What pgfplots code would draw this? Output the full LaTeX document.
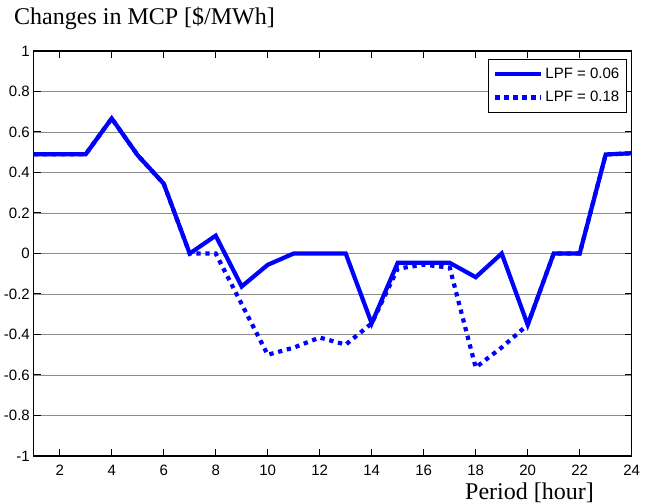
\documentclass[border=0pt]{standalone}
\usepackage{pgfplots}
\pgfplotsset{compat=1.18}
\usepackage{fontspec}
\setmainfont{Liberation Serif}
\newfontfamily\arial{Liberation Sans}
\newcommand\tickfont{\arial\fontsize{15bp}{18bp}\selectfont}
\begin{document}
\begin{tikzpicture}
\path[use as bounding box] (0,0) rectangle (652bp,504bp);
\begin{axis}[
  at={(33.7bp,48bp)}, anchor=south west,
  scale only axis, width=598bp, height=405bp,
  xmin=1, xmax=24, ymin=-1, ymax=1,
  xtick={2,4,...,24},
  xticklabels={2,4,6,8,10,12,14,16,18,20,22,24},
  ytick={-1,-0.8,-0.6,-0.4,-0.2,0,0.2,0.4,0.6,0.8,1},
  yticklabels={-1,-0.8,-0.6,-0.4,-0.2,0,0.2,0.4,0.6,0.8,1},
  tick align=inside,
  major tick length=7bp,
  tick style={black, line width=1bp},
  axis line style={line width=1.3bp},
  ymajorgrids=true,
  major grid style={black!45, line width=0.8bp},
  xticklabel style={font=\tickfont, anchor=base, yshift=-19bp, inner sep=0pt},
  yticklabel style={font=\tickfont, anchor=east, xshift=-3.7bp, inner sep=0pt},
  title={Changes in MCP [\$/MWh]},
  title style={at={(axis description cs:0,1)}, anchor=base west, xshift=-19.7bp, yshift=20.3bp, font=\fontsize{24bp}{28bp}\selectfont, inner sep=0pt},
  xlabel={Period [hour]},
  xlabel style={at={(axis description cs:1,0)}, anchor=base east, xshift=-37.7bp, yshift=-43bp, font=\fontsize{24bp}{28bp}\selectfont, inner sep=0pt},
  legend image code/.code={\draw[#1] (0bp,0bp) -- (46bp,0bp);},
  legend cell align=left,
  legend style={at={(axis description cs:1,1)}, anchor=north east, xshift=-5bp, yshift=-7.7bp,
    draw=black, line width=1bp, fill=white, font=\tickfont,
    inner xsep=5bp, inner ysep=6.6bp, row sep=7.7bp},
]
\addplot[blue, line width=4.2bp] coordinates {
(1,0.49)(2,0.49)(3,0.49)(4,0.667)(5,0.485)(6,0.345)(7,0)(8,0.088)(9,-0.163)(10,-0.056)(11,0)(12,0)(13,0)(14,-0.345)(15,-0.046)(16,-0.046)(17,-0.046)(18,-0.117)(19,0)(20,-0.352)(21,0)(22,0)(23,0.489)(24,0.495)};
\addlegendentry{LPF = 0.06}
\addplot[blue, line width=4.2bp, line cap=butt, dash pattern=on 4.3bp off 4.7bp] coordinates {
(1,0.49)(2,0.49)(3,0.49)(4,0.667)(5,0.485)(6,0.345)(7,0)(8,0)(9,-0.25)(10,-0.5)(11,-0.465)(12,-0.415)(13,-0.45)(14,-0.345)(15,-0.075)(16,-0.055)(17,-0.07)(18,-0.563)(19,-0.464)(20,-0.352)(21,0)(22,0)(23,0.489)(24,0.495)};
\addlegendentry{LPF = 0.18}
\end{axis}
\end{tikzpicture}
\end{document}
